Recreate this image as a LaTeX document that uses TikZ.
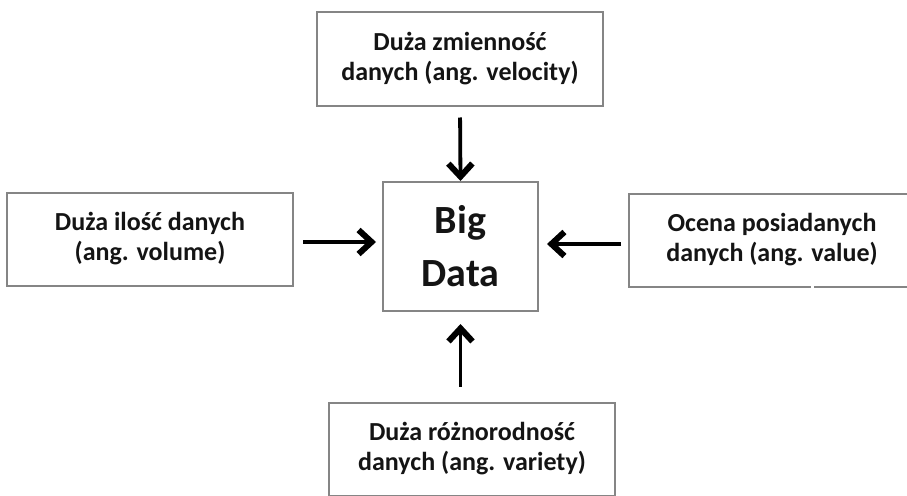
\documentclass[tikz,border=0pt]{standalone}
\usepackage{fontspec}
\setmainfont{Carlito}
\usetikzlibrary{arrows.meta}
\definecolor{framegray}{HTML}{858585}
\definecolor{inktext}{HTML}{141414}
\tikzset{
  vbox/.style={draw=framegray, line width=2pt, fill=white, minimum width=286pt,
    minimum height=93pt, align=center, inner sep=0pt, text=inktext,
    font=\fontsize{26}{30}\selectfont\bfseries},
  corebox/.style={draw=framegray, line width=2pt, fill=white, minimum width=155pt,
    minimum height=129pt, align=center, inner sep=0pt, text=inktext,
    font=\fontsize{40}{53}\selectfont\bfseries},
  arr/.style={draw=black, line width=3.8pt,
    -{Straight Barb[length=13pt,width=24pt,line width=6pt 0]}}
}
\begin{document}
\begin{tikzpicture}[x=1pt,y=-1pt]
  \useasboundingbox[fill=white] (0,0) rectangle (907,495);
  \clip (0,0) rectangle (907,495);

  % central concept
  \node[corebox] (big) at (460.5,246.5) {Big\\Data};

  % the four V's around it
  \node[vbox] (vel) at (460,59)  {Duża zmienność\\danych (ang. velocity)};
  \node[vbox] (vol) at (150,239) {Duża ilość danych\\(ang. volume)};
  \node[vbox] (val) at (772,240) {Ocena posiadanych\\danych (ang. value)};
  \node[vbox] (var) at (472,449) {Duża różnorodność\\danych (ang. variety)};

  % small break in the frame of the value box
  \fill[white] (811,283) rectangle (814,290);

  % arrows pointing into Big Data
  \draw[arr, shorten <=11pt] (vel.south) -- (big.north);
  \draw[arr, shorten <=9pt, shorten >=6pt] ([yshift=-3pt]vol.east) -- ([yshift=-3pt]vol.east -| big.west);
  \draw[arr, shorten <=7pt, shorten >=8pt] ([yshift=-4pt]val.west) -- ([yshift=-4pt]val.west -| big.east);
  \draw[arr, shorten <=15pt, shorten >=12pt] (var.north -| big) -- (big.south);
\end{tikzpicture}
\end{document}
